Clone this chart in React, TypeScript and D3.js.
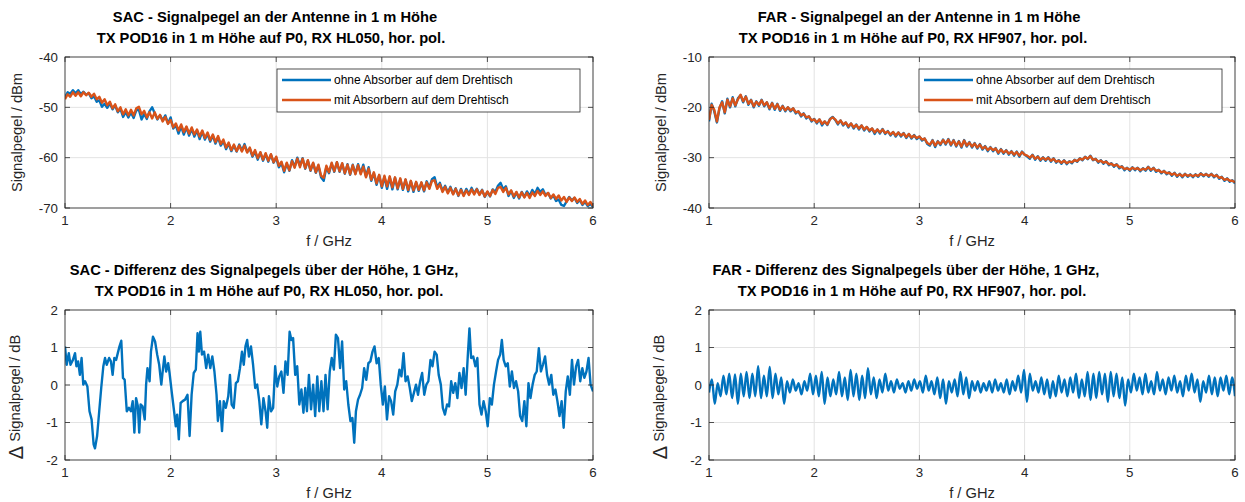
import React from 'react';
import * as d3 from 'd3';

const BLUE = '#0072BD';
const ORANGE = '#D95319';
const AXIS = '#262626';
const GRID = '#e3e3e3';
const FONT = '"Liberation Sans", Arial, Helvetica, sans-serif';

const freqTicks = [1, 2, 3, 4, 5, 6];
const sacLevelTicks = [-70, -60, -50, -40];
const farLevelTicks = [-40, -30, -20, -10];
const diffTicks = [-2, -1, 0, 1, 2];
const legendNames = ['ohne Absorber auf dem Drehtisch', 'mit Absorbern auf dem Drehtisch'];

// level sweeps: one sample every 25 MHz from 1 to 6 GHz
const levelFreq = d3.range(201).map(i => 1 + i * 0.025);

const sacOhne = [
  -48.0, -47.0, -47.3, -46.6, -47.2, -46.6, -47.4, -46.9, -47.5, -47.2,
  -48.2, -47.8, -48.9, -48.6, -49.9, -49.3, -50.1, -49.2, -50.4, -49.6,
  -51.0, -50.3, -51.9, -50.9, -52.0, -51.0, -52.1, -50.6, -50.5, -52.4,
  -51.3, -52.3, -50.8, -50.0, -51.2, -52.4, -51.6, -52.6, -51.6, -53.2,
  -52.0, -54.2, -53.6, -55.2, -53.8, -55.4, -54.0, -55.6, -54.3, -55.8,
  -54.6, -56.3, -54.8, -56.4, -55.3, -56.8, -55.6, -57.2, -56.0, -57.6,
  -56.7, -58.3, -57.2, -58.7, -57.6, -58.8, -57.4, -58.6, -57.3, -58.8,
  -58.2, -59.8, -58.8, -60.4, -59.0, -60.6, -59.3, -60.8, -59.4, -61.0,
  -60.0, -61.9, -61.1, -62.9, -61.2, -62.6, -60.5, -61.8, -60.0, -61.6,
  -60.1, -62.2, -60.6, -62.6, -61.1, -63.0, -61.6, -63.9, -64.6, -61.9,
  -63.1, -61.2, -62.8, -60.9, -62.8, -61.2, -63.2, -61.3, -63.4, -61.4,
  -63.2, -61.3, -63.1, -61.4, -63.7, -61.9, -64.6, -63.1, -65.4, -63.5,
  -66.0, -63.8, -66.2, -63.9, -66.3, -64.0, -66.3, -64.3, -66.4, -64.4,
  -66.7, -64.7, -66.8, -64.9, -66.6, -65.0, -66.7, -64.7, -66.0, -64.3,
  -63.9, -65.9, -65.0, -66.6, -65.6, -66.9, -65.8, -67.2, -66.1, -67.6,
  -66.2, -67.5, -66.2, -67.2, -66.0, -67.1, -66.2, -67.3, -66.4, -67.8,
  -66.8, -67.7, -66.3, -66.8, -65.6, -65.0, -66.3, -65.7, -67.6, -66.6,
  -68.0, -66.9, -68.1, -66.8, -67.8, -66.7, -67.6, -66.4, -67.2, -66.0,
  -66.8, -66.3, -67.4, -67.0, -68.1, -67.5, -68.6, -68.3, -69.4, -69.6,
  -68.7, -67.8, -68.5, -68.0, -69.0, -68.4, -69.4, -68.8, -69.6, -69.2,
  -69.8,
];

const sacMit = [
  -48.4, -47.4, -47.9, -47.0, -47.7, -47.0, -47.8, -47.0, -47.6, -47.1,
  -47.9, -47.3, -48.4, -47.9, -49.1, -48.4, -49.6, -48.9, -50.2, -49.4,
  -50.8, -50.0, -51.4, -50.4, -51.6, -50.5, -51.6, -50.2, -49.9, -51.4,
  -50.7, -52.0, -51.0, -52.2, -51.0, -52.3, -51.5, -52.8, -51.9, -53.3,
  -52.5, -54.0, -53.2, -54.6, -53.4, -54.9, -53.8, -55.2, -54.0, -55.4,
  -54.4, -55.8, -54.6, -56.1, -55.0, -56.5, -55.4, -56.9, -55.7, -57.3,
  -56.4, -58.0, -57.0, -58.5, -57.4, -58.7, -57.6, -58.8, -57.6, -59.0,
  -58.0, -59.6, -58.5, -60.1, -58.9, -60.4, -59.1, -60.6, -59.3, -60.9,
  -59.8, -61.6, -60.8, -62.6, -61.0, -62.5, -60.7, -62.0, -60.2, -61.9,
  -60.2, -62.1, -60.5, -62.5, -61.0, -62.9, -61.4, -63.6, -64.0, -61.6,
  -62.9, -61.0, -62.7, -60.9, -62.7, -61.1, -63.1, -61.4, -63.3, -61.5,
  -63.3, -61.5, -63.3, -61.8, -63.9, -62.2, -64.4, -62.9, -65.1, -63.4,
  -65.7, -63.6, -65.7, -63.7, -65.9, -63.9, -66.1, -64.1, -66.2, -64.3,
  -66.4, -64.6, -66.5, -64.8, -66.4, -64.9, -66.5, -64.9, -66.2, -64.6,
  -64.5, -66.2, -65.3, -66.8, -65.8, -67.1, -66.0, -67.3, -66.2, -67.5,
  -66.4, -67.6, -66.5, -67.4, -66.3, -67.3, -66.3, -67.4, -66.5, -67.7,
  -66.7, -67.6, -66.4, -67.2, -66.0, -65.8, -66.8, -66.0, -67.3, -66.5,
  -67.7, -66.8, -67.9, -66.9, -67.9, -67.0, -68.0, -66.9, -67.6, -66.6,
  -67.4, -66.7, -67.6, -67.0, -68.0, -67.3, -68.2, -67.5, -68.5, -67.8,
  -68.8, -67.9, -68.6, -67.9, -68.8, -68.2, -69.2, -68.5, -69.4, -68.8,
  -69.6,
];

const farOhne = [
  -22.8, -19.3, -20.8, -23.0, -20.2, -18.8, -21.2, -18.3, -20.0, -18.0,
  -19.8, -18.2, -17.6, -19.0, -17.8, -19.5, -18.5, -20.0, -18.8, -19.7,
  -18.5, -19.8, -19.0, -20.4, -19.1, -20.5, -19.3, -20.7, -19.7, -20.8,
  -20.0, -20.8, -20.2, -21.2, -20.8, -21.8, -21.2, -22.2, -21.8, -22.8,
  -22.3, -23.2, -22.4, -23.6, -22.8, -23.5, -22.3, -21.9, -22.5, -23.4,
  -22.6, -23.6, -23.0, -24.0, -23.2, -24.2, -23.4, -24.4, -23.6, -24.6,
  -23.9, -24.8, -24.2, -25.3, -24.4, -25.2, -24.3, -25.3, -24.7, -25.6,
  -24.9, -25.8, -25.0, -25.8, -25.1, -26.1, -25.3, -26.2, -25.5, -26.3,
  -25.8, -26.6, -26.2, -27.3, -27.6, -26.5, -27.9, -26.7, -27.5, -26.4,
  -27.4, -26.3, -27.6, -26.5, -27.8, -26.7, -28.0, -26.5, -27.8, -26.9,
  -28.0, -27.1, -28.2, -27.3, -28.4, -27.7, -28.7, -27.9, -28.7, -28.1,
  -29.2, -28.3, -29.2, -28.5, -29.4, -28.7, -29.6, -28.8, -29.8, -28.8,
  -29.4, -29.8, -30.2, -29.4, -30.4, -29.7, -30.6, -29.9, -30.6, -29.9,
  -30.8, -30.1, -31.0, -30.5, -31.2, -30.5, -31.3, -30.7, -31.1, -30.4,
  -30.8, -30.1, -30.5, -29.8, -30.3, -29.6, -30.5, -30.2, -31.0, -30.5,
  -31.2, -30.7, -31.5, -31.1, -31.8, -31.3, -32.1, -31.7, -32.5, -32.0,
  -32.6, -31.9, -32.5, -32.0, -32.7, -32.1, -32.6, -31.8, -32.6, -32.0,
  -32.8, -32.4, -33.1, -32.6, -33.3, -32.9, -33.6, -33.0, -33.8, -33.2,
  -33.9, -33.2, -33.8, -33.3, -33.9, -33.3, -33.8, -33.1, -33.7, -33.2,
  -33.8, -33.2, -33.9, -33.4, -34.2, -33.8, -34.6, -34.1, -34.8, -34.5,
  -35.1,
];

const farMit = [
  -22.5, -19.5, -20.5, -22.8, -20.0, -19.0, -21.0, -18.5, -19.8, -18.2,
  -19.6, -18.4, -17.5, -18.8, -17.9, -19.3, -18.6, -19.8, -18.9, -19.5,
  -18.6, -19.6, -19.0, -20.2, -19.2, -20.3, -19.4, -20.5, -19.8, -20.6,
  -20.0, -20.6, -20.2, -21.0, -20.8, -21.6, -21.3, -22.0, -21.8, -22.6,
  -22.4, -23.0, -22.4, -23.3, -22.8, -23.4, -22.4, -22.0, -22.4, -23.2,
  -22.6, -23.4, -23.0, -23.8, -23.2, -24.0, -23.5, -24.2, -23.6, -24.4,
  -23.9, -24.6, -24.2, -25.0, -24.4, -25.0, -24.4, -25.1, -24.8, -25.4,
  -24.9, -25.6, -25.0, -25.6, -25.2, -25.9, -25.3, -26.0, -25.6, -26.1,
  -25.8, -26.4, -26.2, -27.1, -27.4, -26.6, -27.6, -26.8, -27.3, -26.5,
  -27.2, -26.4, -27.4, -26.6, -27.6, -26.8, -27.8, -26.6, -27.6, -27.0,
  -27.8, -27.2, -28.0, -27.4, -28.2, -27.8, -28.5, -28.0, -28.5, -28.2,
  -29.0, -28.4, -29.0, -28.6, -29.2, -28.8, -29.4, -28.9, -29.6, -28.9,
  -29.4, -29.6, -30.0, -29.5, -30.2, -29.8, -30.4, -30.0, -30.4, -30.0,
  -30.6, -30.2, -30.8, -30.6, -31.0, -30.6, -31.1, -30.8, -30.9, -30.5,
  -30.7, -30.2, -30.4, -29.9, -30.2, -29.7, -30.4, -30.3, -30.8, -30.6,
  -31.0, -30.8, -31.3, -31.2, -31.6, -31.4, -31.9, -31.8, -32.3, -32.1,
  -32.4, -32.0, -32.3, -32.1, -32.5, -32.2, -32.4, -31.9, -32.4, -32.1,
  -32.6, -32.5, -32.9, -32.7, -33.1, -33.0, -33.4, -33.1, -33.6, -33.3,
  -33.7, -33.3, -33.6, -33.4, -33.7, -33.4, -33.6, -33.2, -33.5, -33.3,
  -33.6, -33.3, -33.7, -33.5, -34.0, -33.9, -34.4, -34.2, -34.6, -34.6,
  -34.9,
];

// SAC height difference, read point by point (GHz / dB)
const sacDiffFreq = [
  1.000, 1.016, 1.036, 1.052, 1.075, 1.095, 1.108, 1.124, 1.141, 1.157,
  1.173, 1.190, 1.212, 1.232, 1.252, 1.271, 1.284, 1.304, 1.324, 1.343,
  1.363, 1.379, 1.395, 1.418, 1.435, 1.451, 1.467, 1.484, 1.500, 1.516,
  1.533, 1.549, 1.565, 1.585, 1.605, 1.624, 1.641, 1.657, 1.673, 1.690,
  1.703, 1.716, 1.735, 1.755, 1.768, 1.781, 1.801, 1.814, 1.833, 1.853,
  1.873, 1.892, 1.912, 1.925, 1.941, 1.958, 1.977, 1.990, 2.010, 2.033,
  2.049, 2.062, 2.078, 2.095, 2.114, 2.137, 2.160, 2.180, 2.199, 2.219,
  2.239, 2.255, 2.268, 2.281, 2.297, 2.317, 2.337, 2.356, 2.376, 2.395,
  2.415, 2.435, 2.448, 2.467, 2.487, 2.503, 2.523, 2.546, 2.562, 2.578,
  2.598, 2.618, 2.637, 2.657, 2.676, 2.693, 2.709, 2.725, 2.742, 2.761,
  2.781, 2.801, 2.820, 2.840, 2.859, 2.879, 2.899, 2.915, 2.931, 2.951,
  2.971, 2.990,
  3.010, 3.029, 3.049, 3.069, 3.088, 3.108, 3.127, 3.144, 3.160, 3.180,
  3.199, 3.219, 3.239, 3.258, 3.275, 3.291, 3.310, 3.330, 3.350, 3.369,
  3.389, 3.408, 3.428, 3.448, 3.467, 3.487, 3.507, 3.526, 3.546, 3.565,
  3.585, 3.605, 3.624, 3.644, 3.663, 3.683, 3.703, 3.722, 3.739, 3.755,
  3.775, 3.794, 3.814, 3.833, 3.853, 3.873, 3.892, 3.912, 3.931, 3.951,
  3.971, 3.990,
  4.010, 4.029, 4.049, 4.069, 4.088, 4.108, 4.127, 4.147, 4.167, 4.186,
  4.206, 4.225, 4.245, 4.265, 4.284, 4.304, 4.324, 4.343, 4.363, 4.382,
  4.402, 4.422, 4.441, 4.461, 4.480, 4.500, 4.520, 4.539, 4.559, 4.578,
  4.598, 4.618, 4.637, 4.657, 4.676, 4.696, 4.716, 4.735, 4.755, 4.775,
  4.794, 4.814, 4.830, 4.846, 4.866, 4.886, 4.905, 4.925, 4.944, 4.964,
  4.984, 5.003, 5.023, 5.042, 5.062, 5.082, 5.101, 5.121, 5.137, 5.154,
  5.173, 5.193, 5.212, 5.232, 5.252, 5.271, 5.291, 5.310, 5.330, 5.350,
  5.369, 5.389, 5.408, 5.428, 5.448, 5.467, 5.487, 5.507, 5.526, 5.546,
  5.565, 5.585, 5.605, 5.624, 5.644, 5.663, 5.683, 5.703, 5.722, 5.742,
  5.761, 5.781, 5.801, 5.820, 5.840, 5.859, 5.879, 5.899, 5.918, 5.938,
  5.958, 5.977, 6.000,
];

const sacDiff = [
  1.03, 0.54, 0.85, 0.54, 0.67, 0.85, 0.50, 0.63, 0.27, 0.72,
  0.01, 0.10, -0.04, -0.70, -0.92, -1.58, -1.69, -1.36, -0.70, -0.08,
  0.50, 0.72, 0.54, 0.72, 0.63, 0.27, 0.72, 0.67, 0.85, 1.03,
  1.18, 0.19, 0.14, -0.70, -0.61, -0.70, -0.43, -1.27, -0.35, -0.57,
  -1.27, -0.52, -0.57, -0.92, 0.01, 0.45, 0.10, 0.89, 1.29, 1.16,
  0.81, 0.54, 0.01, 0.36, 0.76, 0.36, 0.58, 0.32, -0.17, -0.70,
  -1.10, -0.79, -1.45, -0.48, -0.43, -0.39, -0.26, -1.36, -0.26, 0.32,
  0.41, 1.38, 0.89, 1.42, 0.81, 0.89, 0.45, 0.81, 0.45, 0.76,
  0.36, -0.26, -0.96, -0.43, -1.23, -0.43, -0.61, -0.30, 0.27, -0.52,
  -0.61, 0.05, 0.10, 0.45, 0.89, 0.54, 1.03, 1.20, 0.76, 1.03,
  0.54, -0.08, 0.01, -0.43, -1.05, -0.35, -0.70, -1.14, -0.30, -0.70,
  -0.61, 0.50,
  -0.04, 0.23, 0.36, -0.21, 0.63, 0.27, 1.42, 1.20, 1.25, 0.27,
  0.50, -0.52, -0.12, -0.74, -0.08, -0.70, 0.27, -0.65, 0.01, -0.83,
  0.23, -0.70, 0.10, -0.70, 0.27, -0.65, 0.36, 0.72, 0.41, 1.34,
  1.25, 0.45, 1.16, -0.12, 0.10, -0.52, -0.96, -0.88, -1.54, -0.70,
  -0.39, -0.26, -0.08, 0.45, 0.14, 0.58, 0.63, 0.89, 1.03, 0.58,
  0.72, 0.01,
  -0.52, -0.04, -0.92, -0.30, -0.43, -0.79, -0.17, 0.01, 0.41, 0.23,
  0.85, 0.10, 0.23, -0.08, -0.43, -0.21, 0.01, -0.26, 0.10, 0.32,
  -0.26, 0.01, 0.10, 0.67, 0.50, 0.89, 0.81, 0.27, 0.01, -0.61,
  -0.79, -0.52, -0.57, 0.10, -0.21, 0.05, -0.35, 0.32, -0.08, 0.45,
  -0.26, 0.76, 1.51, 0.72, 0.76, 0.50, 0.72, -0.52, -0.79, -0.43,
  -0.70, -1.10, -0.35, -0.52, 0.01, 0.36, 0.67, 0.81, 1.20, 0.67,
  0.50, 0.58, -0.04, 0.36, -0.08, 0.10, -0.17, -0.83, -0.96, -0.43,
  -1.10, 0.05, -0.35, 0.01, 0.27, 0.36, 0.98, 0.36, 0.54, 0.76,
  0.27, 0.01, 0.27, -0.26, -0.12, -0.43, -0.83, -0.43, -1.14, -0.17,
  0.23, -0.26, 0.67, 0.01, 0.50, 0.67, 0.10, 0.45, 0.19, 0.36,
  0.72, 0.01, -0.17,
];

// FAR height difference: alternating extremes, evenly spaced over 1..6 GHz
const farDiff = [
  -0.20, 0.15, -0.50, 0.05, -0.30, 0.25, -0.25, 0.30, -0.35, 0.28,
  -0.50, 0.30, -0.30, 0.35, -0.35, 0.30, -0.30, 0.50, -0.35, 0.25,
  -0.30, 0.48, -0.35, 0.30, -0.25, 0.20, -0.50, 0.10, -0.20, 0.15,
  -0.15, 0.05, -0.25, 0.10, -0.15, 0.30, -0.25, 0.25, -0.30, 0.35,
  -0.50, 0.20, -0.30, 0.15, -0.25, 0.35, -0.30, 0.20, -0.40, 0.40,
  -0.30, 0.30, -0.40, 0.25, -0.35, 0.45, -0.25, 0.20, -0.35, 0.15,
  -0.20, 0.30, -0.15, 0.10, -0.20, 0.15, -0.10, 0.05, -0.20, 0.10,
  -0.15, 0.15, -0.10, 0.10, -0.20, 0.25, -0.15, 0.10, -0.25, 0.20,
  -0.35, 0.15, -0.50, 0.10, -0.20, 0.15, -0.30, 0.35, -0.25, 0.20,
  -0.35, 0.10, -0.15, 0.10, -0.20, 0.05, -0.15, 0.10, -0.20, 0.15,
  -0.15, 0.05, -0.20, 0.15, -0.25, 0.10, -0.15, 0.25, -0.20, 0.40,
  -0.45, 0.30, -0.15, 0.10, -0.20, 0.20, -0.25, 0.15, -0.35, 0.10,
  -0.30, 0.25, -0.20, 0.15, -0.30, 0.20, -0.20, 0.30, -0.35, 0.15,
  -0.30, 0.35, -0.40, 0.30, -0.35, 0.35, -0.25, 0.30, -0.45, 0.35,
  -0.30, 0.30, -0.35, 0.20, -0.55, 0.15, -0.20, 0.30, -0.15, 0.20,
  -0.25, 0.30, -0.20, 0.10, -0.25, 0.35, -0.15, 0.15, -0.25, 0.20,
  -0.15, 0.25, -0.20, 0.10, -0.30, 0.25, -0.15, 0.30, -0.20, 0.15,
  -0.45, 0.10, -0.20, 0.25, -0.25, 0.20, -0.30, 0.20, -0.15, 0.25,
  -0.25, 0.20, -0.30,
];
const farDiffFreq = farDiff.map((_, i) => 1 + (5 * i) / (farDiff.length - 1));

type Box = { left: number; right: number; top: number; bottom: number };
type Series = { xs: number[]; ys: number[]; color: string; curve?: d3.CurveFactory };

function Panel(props: {
  id: string;
  box: Box;
  yDomain: [number, number];
  yTicks: number[];
  title: string[];
  titleX: number[];
  ylabel: string;
  delta?: boolean;
  series: Series[];
  legend?: boolean;
}) {
  const { id, box, yDomain, yTicks, title, titleX, ylabel, delta, series, legend } = props;
  const x = d3.scaleLinear().domain([1, 6]).range([box.left, box.right]);
  const y = d3.scaleLinear().domain(yDomain).range([box.bottom, box.top]);
  const midX = (box.left + box.right) / 2;
  const midY = (box.top + box.bottom) / 2;
  const tick = 5;

  const legendBox = { left: box.right - 316, top: box.top + 12, width: 303, height: 43 };

  return (
    <g>
      <defs>
        <clipPath id={`clip-${id}`}>
          <rect x={box.left} y={box.top} width={box.right - box.left} height={box.bottom - box.top} />
        </clipPath>
      </defs>
      <rect x={box.left} y={box.top} width={box.right - box.left} height={box.bottom - box.top} fill="#fff" />

      {/* grid */}
      {freqTicks.map(t => (
        <line key={`gx${t}`} x1={x(t)} x2={x(t)} y1={box.top} y2={box.bottom} stroke={GRID} strokeWidth={1} />
      ))}
      {yTicks.map(t => (
        <line key={`gy${t}`} x1={box.left} x2={box.right} y1={y(t)} y2={y(t)} stroke={GRID} strokeWidth={1} />
      ))}

      {/* data */}
      <g clipPath={`url(#clip-${id})`}>
        {series.map((s, i) => {
          const line = d3.line<number>()
            .x((_, j) => x(s.xs[j]))
            .y(d => y(d))
            .curve(s.curve || d3.curveLinear);
          return (
            <path key={i} d={line(s.ys) || ''} fill="none" stroke={s.color}
              strokeWidth={2.4} strokeLinejoin="round" />
          );
        })}
      </g>

      {/* box + ticks on all sides */}
      <rect x={box.left} y={box.top} width={box.right - box.left} height={box.bottom - box.top}
        fill="none" stroke={AXIS} strokeWidth={0.8} />
      {freqTicks.map(t => (
        <g key={`tx${t}`}>
          <line x1={x(t)} x2={x(t)} y1={box.bottom} y2={box.bottom - tick} stroke={AXIS} strokeWidth={0.8} />
          <line x1={x(t)} x2={x(t)} y1={box.top} y2={box.top + tick} stroke={AXIS} strokeWidth={0.8} />
          <text x={x(t)} y={box.bottom + 16.5} textAnchor="middle" fontSize={13.3} fill={AXIS}>{String(t)}</text>
        </g>
      ))}
      {yTicks.map(t => (
        <g key={`ty${t}`}>
          <line x1={box.left} x2={box.left + tick} y1={y(t)} y2={y(t)} stroke={AXIS} strokeWidth={0.8} />
          <line x1={box.right} x2={box.right - tick} y1={y(t)} y2={y(t)} stroke={AXIS} strokeWidth={0.8} />
          <text x={box.left - 7} y={y(t) + 4.6} textAnchor="end" fontSize={13.3} fill={AXIS}>{String(t)}</text>
        </g>
      ))}

      {/* labels */}
      <text x={midX} y={box.bottom + 38} textAnchor="middle" fontSize={14.7} fill={AXIS}>f / GHz</text>
      {delta ? (
        <text transform={`translate(${box.left - 42},${midY + 12}) rotate(-90)`} textAnchor="middle" fontSize={14.7} fill={AXIS}>
          <tspan fontSize={20}>Δ</tspan>
          <tspan dy={-3}>{' ' + ylabel}</tspan>
        </text>
      ) : (
        <text transform={`translate(${box.left - 43},${midY}) rotate(-90)`} textAnchor="middle" fontSize={14.7} fill={AXIS}>{ylabel}</text>
      )}
      {title.map((t, i) => (
        <text key={`t${i}`} x={box.left + titleX[i]} y={box.top - 35 + i * 21} textAnchor="middle"
          fontSize={14.7} fontWeight="bold" fill="#000">{t}</text>
      ))}

      {legend && (
        <g>
          <rect x={legendBox.left} y={legendBox.top} width={legendBox.width} height={legendBox.height}
            fill="#fff" stroke={AXIS} strokeWidth={0.8} />
          {legendNames.map((name, i) => (
            <g key={name}>
              <line x1={legendBox.left + 5} x2={legendBox.left + 54}
                y1={legendBox.top + 11 + i * 20} y2={legendBox.top + 11 + i * 20}
                stroke={i === 0 ? BLUE : ORANGE} strokeWidth={2.4} />
              <text x={legendBox.left + 57} y={legendBox.top + 14.5 + i * 20} fontSize={12} fill="#000">{name}</text>
            </g>
          ))}
        </g>
      )}
    </g>
  );
}

export default function App() {
  const topL: Box = { left: 65, right: 593, top: 57, bottom: 208 };
  const topR: Box = { left: 709, right: 1235, top: 57, bottom: 208 };
  const botL: Box = { left: 65, right: 593, top: 310, bottom: 460 };
  const botR: Box = { left: 709, right: 1235, top: 310, bottom: 460 };

  return (
    <svg width={1245} height={502} style={{ position: 'absolute', left: 0, top: 0, background: '#fff' }}
      fontFamily={FONT}>
      <rect width={1245} height={502} fill="#fff" />
      <Panel
        id="sac"
        box={topL}
        yDomain={[-70, -40]}
        yTicks={sacLevelTicks}
        title={['SAC - Signalpegel an der Antenne in 1 m Höhe', 'TX POD16 in 1 m Höhe auf P0, RX HL050, hor. pol.']}
        titleX={[210, 206]}
        ylabel="Signalpegel / dBm"
        series={[
          { xs: levelFreq, ys: sacOhne, color: BLUE },
          { xs: levelFreq, ys: sacMit, color: ORANGE },
        ]}
        legend
      />
      <Panel
        id="far"
        box={topR}
        yDomain={[-40, -10]}
        yTicks={farLevelTicks}
        title={['FAR - Signalpegel an der Antenne in 1 m Höhe', 'TX POD16 in 1 m Höhe auf P0, RX HF907, hor. pol.']}
        titleX={[210, 204]}
        ylabel="Signalpegel / dBm"
        series={[
          { xs: levelFreq, ys: farOhne, color: BLUE },
          { xs: levelFreq, ys: farMit, color: ORANGE },
        ]}
        legend
      />
      <Panel
        id="sacd"
        box={botL}
        yDomain={[-2, 2]}
        yTicks={diffTicks}
        title={['SAC - Differenz des Signalpegels über der Höhe, 1 GHz,', 'TX POD16 in 1 m Höhe auf P0, RX HL050, hor. pol.']}
        titleX={[199, 204]}
        ylabel="Signalpegel / dB"
        delta
        series={[{ xs: sacDiffFreq, ys: sacDiff, color: BLUE }]}
      />
      <Panel
        id="fard"
        box={botR}
        yDomain={[-2, 2]}
        yTicks={diffTicks}
        title={['FAR - Differenz des Signalpegels über der Höhe, 1 GHz,', 'TX POD16 in 1 m Höhe auf P0, RX HF907, hor. pol.']}
        titleX={[197, 203]}
        ylabel="Signalpegel / dB"
        delta
        series={[{ xs: farDiffFreq, ys: farDiff, color: BLUE, curve: d3.curveMonotoneX }]}
      />
    </svg>
  );
}
